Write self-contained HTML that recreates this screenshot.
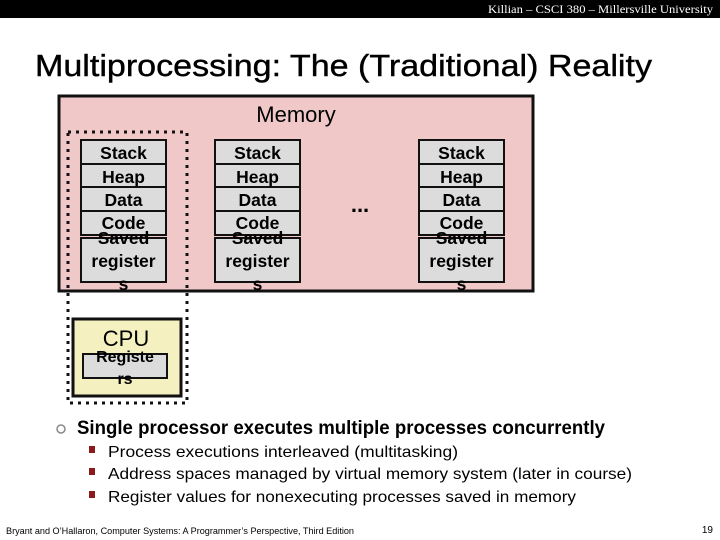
<!DOCTYPE html>
<html><head><style>
html,body{margin:0;padding:0;background:#fff;width:720px;height:540px;overflow:hidden}
</style></head><body>
<svg width="720" height="540" xmlns="http://www.w3.org/2000/svg">
<rect x="0" y="0" width="720" height="18" fill="#000"/>
<text x="713" y="13" fill="#fff" font-family="Liberation Serif, serif" font-size="12" text-anchor="end" textLength="225" lengthAdjust="spacingAndGlyphs">Killian – CSCI 380 – Millersville University</text>
<text x="35" y="76" font-family="Liberation Sans, sans-serif" font-size="31" fill="#000" stroke="#000" stroke-width="0.4" textLength="617" lengthAdjust="spacingAndGlyphs">Multiprocessing: The (Traditional) Reality</text>

<rect x="59" y="96" width="474" height="195" fill="#f0c8c8" stroke="#111" stroke-width="3"/>
<text x="296" y="122" font-family="Liberation Sans, sans-serif" font-size="22" text-anchor="middle">Memory</text>
<text x="360" y="212" font-family="Liberation Sans, sans-serif" font-size="22" font-weight="bold" text-anchor="middle">...</text>

<g font-family="Liberation Sans, sans-serif" font-size="17.5" font-weight="bold" text-anchor="middle">
<g id="c1">
<rect x="81" y="140" width="85" height="95" fill="#dcdcdc" stroke="#111" stroke-width="2"/>
<line x1="81" y1="164" x2="166" y2="164" stroke="#111" stroke-width="2"/>
<line x1="81" y1="187" x2="166" y2="187" stroke="#111" stroke-width="2"/>
<line x1="81" y1="211" x2="166" y2="211" stroke="#111" stroke-width="2"/>
<rect x="81" y="238" width="85" height="44" fill="#dcdcdc" stroke="#111" stroke-width="2"/>
<text x="123.5" y="159">Stack</text><text x="123.5" y="183">Heap</text><text x="123.5" y="206">Data</text><text x="123.5" y="229">Code</text>
<text x="123.5" y="244">Saved</text><text x="123.5" y="267">register</text><text x="123.5" y="290">s</text>
</g>
<use href="#c1" x="134"/>
<use href="#c1" x="338"/>
</g>

<rect x="68" y="132" width="119" height="271" fill="none" stroke="#111" stroke-width="3" stroke-dasharray="3,5"/>
<rect x="73" y="319" width="108" height="77" fill="#f5f0c0" stroke="#111" stroke-width="3"/>
<text x="126" y="346" font-family="Liberation Sans, sans-serif" font-size="22" text-anchor="middle">CPU</text>
<rect x="83" y="354" width="84" height="24" fill="#dcdcdc" stroke="#111" stroke-width="2"/>
<g font-family="Liberation Sans, sans-serif" font-size="16" font-weight="bold" text-anchor="middle">
<text x="125" y="362">Registe</text><text x="125" y="384">rs</text></g>

<circle cx="61" cy="429" r="4" fill="none" stroke="#888" stroke-width="1.5"/>
<g font-family="Liberation Sans, sans-serif">
<text x="77" y="434" font-size="19" font-weight="bold" textLength="528" lengthAdjust="spacingAndGlyphs">Single processor executes multiple processes concurrently</text>
<rect x="89" y="446" width="6" height="7" fill="#8b1a1a"/>
<rect x="89" y="468" width="6" height="7" fill="#8b1a1a"/>
<rect x="89" y="491" width="6" height="7" fill="#8b1a1a"/>
<text x="108" y="457" font-size="16" textLength="350" lengthAdjust="spacingAndGlyphs">Process executions interleaved (multitasking)</text>
<text x="108" y="479" font-size="16" textLength="524" lengthAdjust="spacingAndGlyphs">Address spaces managed by virtual memory system (later in course)</text>
<text x="108" y="502" font-size="16" textLength="468" lengthAdjust="spacingAndGlyphs">Register values for nonexecuting processes saved in memory</text>
<text x="6" y="534" font-size="9" textLength="348" lengthAdjust="spacingAndGlyphs">Bryant and O’Hallaron, Computer Systems: A Programmer’s Perspective, Third Edition</text>
<text x="713" y="533" font-size="10" text-anchor="end">19</text>
</g>
</svg>
</body></html>
